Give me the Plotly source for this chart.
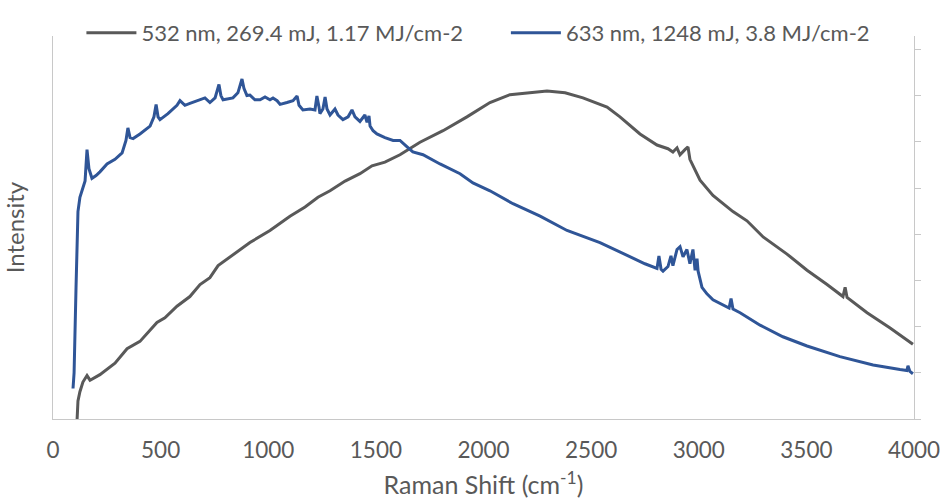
import plotly.graph_objects as go

# Raman shift (cm-1) and intensity (arbitrary units)
x_532 = [112, 116, 125, 139, 158, 172, 218, 288, 344, 404, 483, 520, 576, 636, 683, 729, 767,
         822, 855, 915, 1008, 1101, 1171, 1231, 1287, 1357, 1426, 1482, 1542, 1612, 1705, 1812,
         1923, 2030, 2123, 2216, 2295, 2379, 2462, 2574, 2634, 2727, 2806, 2857, 2880, 2899, 2913,
         2936, 2950, 2959, 2969, 3006, 3066, 3159, 3224, 3299, 3410, 3503, 3596, 3670, 3680, 3689,
         3782, 3889, 3995]
y_532 = [0.0, 0.39, 0.59, 0.80, 0.94, 0.84, 0.96, 1.21, 1.52, 1.68, 2.09, 2.19, 2.44, 2.65, 2.91,
         3.06, 3.32, 3.51, 3.63, 3.82, 4.08, 4.39, 4.59, 4.80, 4.94, 5.15, 5.31, 5.48, 5.56, 5.72,
         5.99, 6.24, 6.54, 6.85, 7.02, 7.06, 7.10, 7.06, 6.95, 6.75, 6.54, 6.17, 5.93, 5.85, 5.78,
         5.87, 5.72, 5.83, 5.89, 5.62, 5.52, 5.17, 4.84, 4.49, 4.29, 3.94, 3.57, 3.22, 2.91, 2.65,
         2.85, 2.63, 2.30, 1.97, 1.62]

x_633 = [93, 98, 107, 116, 125, 139, 149, 158, 167, 181, 200, 218, 251, 288, 321, 339, 348, 358,
         372, 404, 451, 469, 479, 488, 497, 534, 567, 576, 590, 613, 636, 683, 706, 729, 753, 771,
         780, 790, 836, 859, 878, 887, 901, 915, 938, 962, 985, 1008, 1022, 1041, 1055, 1087, 1115,
         1134, 1143, 1161, 1194, 1217, 1226, 1236, 1240, 1254, 1264, 1273, 1287, 1310, 1324, 1347,
         1371, 1389, 1403, 1426, 1440, 1449, 1459, 1468, 1473, 1487, 1505, 1542, 1580, 1612, 1645,
         1672, 1719, 1798, 1891, 1951, 2030, 2137, 2263, 2388, 2541, 2634, 2681, 2750, 2806, 2815,
         2825, 2834, 2857, 2871, 2880, 2899, 2913, 2927, 2945, 2959, 2973, 2983, 2992, 2997, 3015,
         3038, 3066, 3108, 3141, 3150, 3159, 3192, 3238, 3285, 3391, 3503, 3656, 3810, 3935, 3967,
         3972, 3981, 3995]
y_633 = [0.66, 1.0, 2.85, 4.49, 4.80, 5.0, 5.15, 5.83, 5.42, 5.21, 5.27, 5.35, 5.52, 5.62, 5.76,
         6.03, 6.30, 6.09, 6.07, 6.17, 6.34, 6.54, 6.81, 6.54, 6.48, 6.61, 6.75, 6.79, 6.89, 6.79,
         6.83, 6.91, 6.95, 6.85, 6.95, 7.24, 7.0, 6.91, 6.95, 7.06, 7.36, 7.16, 7.0, 7.01, 6.91,
         6.91, 6.97, 6.91, 6.95, 6.89, 6.81, 6.85, 6.89, 6.99, 6.79, 6.69, 6.71, 6.69, 6.99, 6.75,
         6.61, 6.71, 6.97, 6.71, 6.58, 6.71, 6.58, 6.48, 6.54, 6.69, 6.54, 6.44, 6.54, 6.58, 6.42,
         6.56, 6.34, 6.24, 6.17, 6.09, 6.03, 6.03, 5.89, 5.78, 5.72, 5.52, 5.31, 5.11, 4.94, 4.66,
         4.39, 4.08, 3.82, 3.61, 3.51, 3.36, 3.26, 3.53, 3.24, 3.20, 3.30, 3.53, 3.32, 3.67, 3.73,
         3.51, 3.67, 3.36, 3.67, 3.22, 3.47, 3.20, 2.85, 2.71, 2.58, 2.48, 2.40, 2.61, 2.38, 2.30,
         2.17, 2.03, 1.78, 1.58, 1.35, 1.17, 1.07, 1.05, 1.15, 1.03, 0.98]

name_532 = "532 nm, 269.4 mJ, 1.17 MJ/cm-2"
name_633 = "633 nm, 1248 mJ, 3.8 MJ/cm-2"
x_ticks = [0, 500, 1000, 1500, 2000, 2500, 3000, 3500, 4000]

FONT = "Lato"
TXT = "#595959"
AX = "#C8C8C8"

fig = go.Figure()
fig.add_trace(go.Scatter(x=x_532, y=y_532, mode="lines", name=name_532, legend="legend",
                         line=dict(color="#595959", width=3)))
fig.add_trace(go.Scatter(x=x_633, y=y_633, mode="lines", name=name_633, yaxis="y2",
                         legend="legend2", line=dict(color="#2F5597", width=3)))

leg_common = dict(orientation="h", yanchor="middle", y=1.008, xanchor="left",
                  bgcolor="rgba(0,0,0,0)", font=dict(size=22, color=TXT, family=FONT),
                  itemwidth=50)

fig.update_layout(
    width=940, height=500,
    margin=dict(l=53, r=26, t=15, b=81),
    paper_bgcolor="white", plot_bgcolor="white",
    font=dict(family=FONT, color=TXT, size=23),
    showlegend=True,
    legend=dict(x=0.033, **leg_common),
    legend2=dict(x=0.526, **leg_common),
    xaxis=dict(range=[0, 4000], tickvals=x_ticks, showgrid=False, zeroline=False,
               showline=True, linecolor=AX, linewidth=1, ticks="", automargin=False,
               tickfont=dict(size=22.5, color=TXT), ticklabelstandoff=11,
               ticklabeloverflow="allow",
               title=dict(text="Raman Shift (cm<sup>-1</sup>)", font=dict(size=25, color=TXT),
                          standoff=14)),
    yaxis=dict(range=[0, 8.29], showgrid=False, zeroline=False, showline=True, automargin=False,
               linecolor=AX, linewidth=1, showticklabels=False, ticks="",
               title=dict(text="Intensity", font=dict(size=24, color=TXT), standoff=20)),
    yaxis2=dict(range=[0, 8.29], overlaying="y", side="right", showgrid=False, automargin=False,
                zeroline=False, showline=True, linecolor=AX, linewidth=1,
                showticklabels=False, ticks="outside", ticklen=6, tickcolor=AX,
                dtick=1, tick0=0),
)

fig.write_html("out.html", config={"displayModeBar": False},
               post_script="document.body.style.margin='0';")
